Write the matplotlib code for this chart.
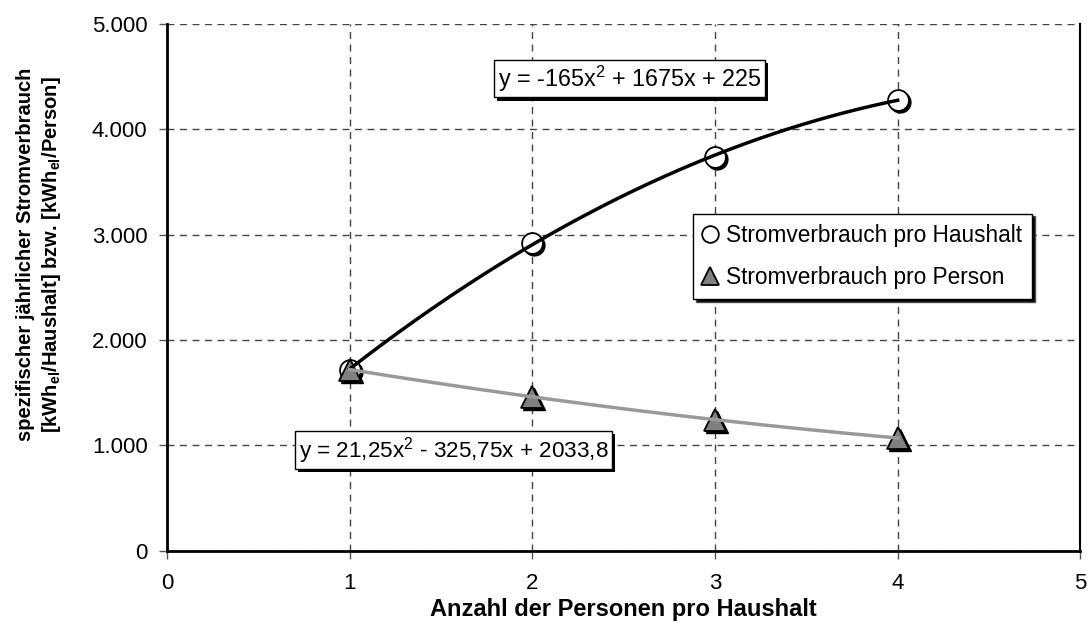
import numpy as np
import matplotlib
matplotlib.use("Agg")
import matplotlib.pyplot as plt
import matplotlib.patheffects as pe
from matplotlib.ticker import FuncFormatter
from matplotlib.transforms import offset_copy

plt.rcParams['font.family'] = ['Liberation Sans', 'DejaVu Sans']
plt.rcParams['mathtext.fontset'] = 'custom'
plt.rcParams['mathtext.rm'] = 'Liberation Sans'
plt.rcParams['mathtext.bf'] = 'Liberation Sans:bold'
plt.rcParams['mathtext.default'] = 'regular'

# data
personen = [1, 2, 3, 4]
pro_haushalt = [1720, 2920, 3740, 4280]
pro_person = [1720, 1460, 1245, 1070]
label_haushalt = "Stromverbrauch pro Haushalt"
label_person = "Stromverbrauch pro Person"
eq_haushalt = r"y = -165x$^2$ + 1675x + 225"
eq_person = r"y = 21,25x$^2$ - 325,75x + 2033,8"

fig = plt.figure(figsize=(10.88, 6.36), dpi=100)
ax = fig.add_axes([0.1535, 0.134, 0.8395, 0.8285])

# polynomial trendlines (2nd order) like the Excel chart
xs = np.linspace(1, 4, 200)
c_h = np.polyfit(personen, pro_haushalt, 2)
c_p = np.polyfit(personen, pro_person, 2)

# marker shadows
shadow = offset_copy(ax.transData, fig=fig, x=2, y=-2, units='dots')
ax.plot(personen, pro_haushalt, 'o', ms=15, color='black', mec='black', transform=shadow, zorder=3)
ax.plot(personen, pro_person, '^', ms=16, color='black', mec='black', transform=shadow, zorder=3)

h1, = ax.plot(personen, pro_haushalt, 'o', ms=15, mfc='white', mec='black', mew=1.3,
              label=label_haushalt, zorder=4)
h2, = ax.plot(personen, pro_person, '^', ms=16, mfc='#808080', mec='black', mew=1.3,
              label=label_person, zorder=4)

ax.plot(xs, np.polyval(c_h, xs), color='black', lw=2.5, zorder=5)
ax.plot(xs, np.polyval(c_p, xs), color='#999999', lw=2.5, zorder=5)

ax.set_xlim(0, 5)
ax.set_ylim(0, 5000)
ax.set_xticks(range(0, 6))
ax.set_yticks(range(0, 5001, 1000))
ax.yaxis.set_major_formatter(FuncFormatter(lambda v, p: f"{int(v):,}".replace(",", ".")))
ax.tick_params(labelsize=16, length=6, width=1, color='#555555', direction='out', pad=8)
ax.tick_params(axis='x', pad=10)
ax.grid(True, color='#444444', ls=(0, (5, 4)), lw=1)

for s in ['left', 'bottom']:
    ax.spines[s].set_linewidth(2)
    ax.spines[s].set_color('black')
ax.spines['right'].set_linewidth(1.5)
ax.spines['top'].set_visible(False)

ax.set_xlabel("Anzahl der Personen pro Haushalt", fontsize=17, fontweight='bold', labelpad=3)
fig.text(0.036, 0.6,
         "spezifischer jährlicher Stromverbrauch\n"
         r"[kWh$_{\mathbf{el}}$/Haushalt] bzw. [kWh$_{\mathbf{el}}$/Person]",
         rotation=90, ha='center', va='center', ma='center',
         fontsize=14.5, fontweight='bold', linespacing=1.3)

# equation boxes with shadow
def eq_box(x, y, txt, size):
    t = ax.text(x, y, txt, fontsize=size, va='center', ha='left', color='black',
                bbox=dict(boxstyle='square,pad=0.15', fc='white', ec='black', lw=1), zorder=7)
    t.get_bbox_patch().set_path_effects(
        [pe.SimplePatchShadow(offset=(2.2, -2.2), shadow_rgbFace='black', alpha=1), pe.Normal()])

eq_box(1.81, 4478, eq_haushalt, 16.8)
eq_box(0.72, 955, eq_person, 16.2)

leg = ax.legend(handles=[h1, h2], loc='upper left', bbox_to_anchor=(0.576, 0.64),
                borderaxespad=0, fontsize=16.3, frameon=True, fancybox=False,
                edgecolor='black', framealpha=1, handlelength=0.6, handletextpad=0.4,
                labelspacing=0.85, borderpad=0.45, markerscale=0.8,
                shadow={'facecolor': 'black', 'alpha': 1})
leg.get_frame().set_linewidth(1)
leg.set_zorder(8)

fig.savefig("out.png", dpi=100)
